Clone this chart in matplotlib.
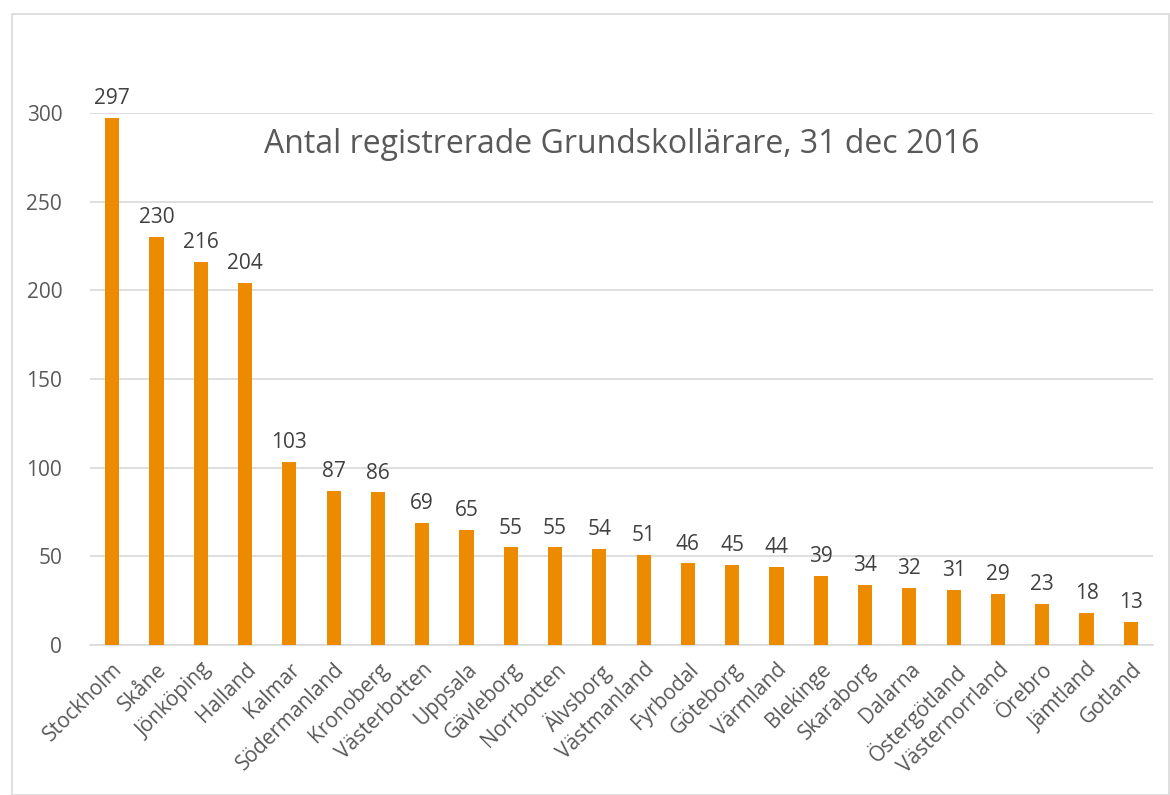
import matplotlib.pyplot as plt
from matplotlib.patches import Rectangle

regions = ["Stockholm", "Skåne", "Jönköping", "Halland", "Kalmar", "Södermanland",
           "Kronoberg", "Västerbotten", "Uppsala", "Gävleborg", "Norrbotten", "Älvsborg",
           "Västmanland", "Fyrbodal", "Göteborg", "Värmland", "Blekinge", "Skaraborg",
           "Dalarna", "Östergötland", "Västernorrland", "Örebro", "Jämtland", "Gotland"]
teachers = [297, 230, 216, 204, 103, 87, 86, 69, 65, 55, 55, 54, 51, 46, 45, 44,
            39, 34, 32, 31, 29, 23, 18, 13]
yticks = [0, 50, 100, 150, 200, 250, 300]

plt.rcParams['font.family'] = ['Open Sans', 'DejaVu Sans']
text_col = '#595959'
bar_col = '#ED8B00'

fig = plt.figure(figsize=(11.7, 7.95), dpi=100)
fig.patches.append(Rectangle((12 / 1170, 0), 1 - 12 / 1170 - 0.001, 1 - 14 / 795,
                             transform=fig.transFigure, fill=False,
                             edgecolor='#D9D9D9', linewidth=1.2))
ax = fig.add_axes([90 / 1170, 1 - 645 / 795, (1153 - 90) / 1170, (645 - 113) / 795])

x = range(len(regions))
bars = ax.bar(x, teachers, width=0.32, color=bar_col, zorder=3)
for b, v in zip(bars, teachers):
    ax.text(b.get_x() + b.get_width() / 2, v + 5, str(v), ha='center', va='bottom',
            fontsize=15, color='#404040', clip_on=False)

ax.set_xlim(-0.5, len(regions) - 0.5)
ax.set_ylim(0, 300)
ax.set_yticks(yticks)
ax.yaxis.grid(True, color='#D9D9D9', linewidth=1.2, zorder=0)
ax.set_axisbelow(True)
for s in ['top', 'right', 'left']:
    ax.spines[s].set_visible(False)
ax.spines['bottom'].set_color('#D9D9D9')
ax.spines['bottom'].set_linewidth(1.2)
ax.tick_params(axis='both', length=0, labelsize=15, colors=text_col)
ax.tick_params(axis='y', pad=20)
ax.tick_params(axis='x', pad=10)
ax.set_xticks(list(x))
ax.set_xticklabels(regions, rotation=45, ha='right', rotation_mode='anchor')

ax.text(0.5, 0.94, "Antal registrerade Grundskollärare, 31 dec 2016", transform=ax.transAxes,
        ha='center', va='center', fontsize=23, color=text_col)

fig.savefig('out.png', dpi=100)
